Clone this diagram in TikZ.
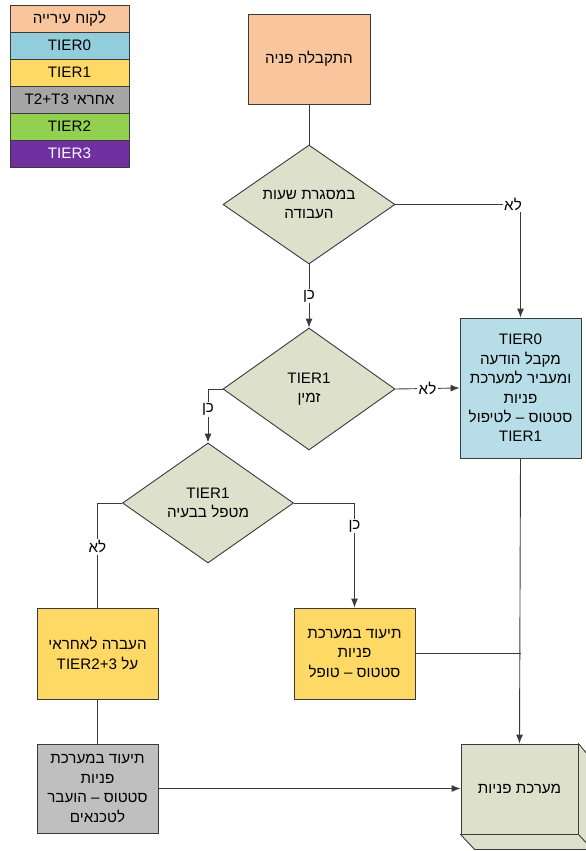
\documentclass[tikz,border=0pt]{standalone}
\usepackage{fontspec}
\setmainfont{Liberation Sans}
\newfontfamily\heb[Script=Hebrew]{Liberation Sans}
\TeXXeTstate=1
\usetikzlibrary{shapes.geometric,arrows.meta}
\newcommand\R[1]{{\heb\beginR #1\endR}}
\definecolor{peach}{HTML}{F9C59C}
\definecolor{legblue}{HTML}{92CDDC}
\definecolor{boxblue}{HTML}{B7DEE8}
\definecolor{yel}{HTML}{FFD966}
\definecolor{leggray}{HTML}{A6A6A6}
\definecolor{boxgray}{HTML}{BFBFBF}
\definecolor{grn}{HTML}{92D050}
\definecolor{purp}{HTML}{7030A0}
\definecolor{sage}{HTML}{DDE1CB}
\definecolor{edge}{HTML}{3A3A3A}
\tikzset{
  base/.style={draw=edge, line width=0.9pt, text=black, align=center, inner sep=0pt,
    font=\fontsize{15.2}{19.4}\selectfont},
  legrow/.style={base, minimum width=119pt, minimum height=27pt},
  box/.style={base, minimum width=121pt},
  dec/.style={base, diamond, fill=sage, aspect=1.45},
  conn/.style={draw=edge, line width=0.9pt},
  arr/.style={conn, -{Latex[length=9pt,width=7pt]}},
  lbl/.style={fill=white, inner sep=1.5pt, font=\fontsize{15.2}{19.4}\selectfont}
}
\begin{document}
\begin{tikzpicture}[x=1pt,y=-1pt]
\useasboundingbox (0,0) rectangle (586,851);
% legend
\node[legrow, fill=peach]   (leg1) at (69.5,18.5)  {\R{לקוח עירייה}};
\node[legrow, fill=legblue] (leg2) at (69.5,45.5)  {TIER0};
\node[legrow, fill=yel]     (leg3) at (69.5,72.5)  {TIER1};
\node[legrow, fill=leggray] (leg4) at (69.5,99.5)  {\R{אחראי \beginL T2+T3\endL}};
\node[legrow, fill=grn]     (leg5) at (69.5,126.5) {TIER2};
\node[legrow, fill=purp, text=white] (leg6) at (69.5,153.5) {TIER3};
% main nodes
\node[box, fill=peach, minimum width=122pt, minimum height=90pt] (start) at (309,59) {\R{התקבלה פניה}};
\node[dec, minimum width=172pt, minimum height=119pt] (d1) at (309,204.5) {\R{במסגרת שעות}\\\R{העבודה}};
\node[dec, minimum width=172pt, minimum height=122pt] (d2) at (309,389) {TIER1\\\R{זמין}};
\node[box, fill=boxblue, minimum height=140pt] (t0) at (520.5,388) {TIER0\\\R{מקבל הודעה}\\\R{ומעביר למערכת}\\\R{פניות}\\\R{סטטוס – לטיפול}\\TIER1};
\node[dec, minimum width=171pt, minimum height=120pt] (d3) at (208,503) {TIER1\\\R{מטפל בבעיה}};
\node[box, fill=yel, minimum height=91pt] (esc) at (97.5,653.5) {\R{העברה לאחראי}\\\R{על \beginL TIER2+3\endL}};
\node[box, fill=yel, minimum height=91pt] (done) at (354.5,653.5) {\R{תיעוד במערכת}\\\R{פניות}\\\R{סטטוס – טופל}};
\node[box, fill=boxgray, minimum height=89pt] (gray) at (97.5,788.5) {\R{תיעוד במערכת}\\\R{פניות}\\\R{סטטוס – הועבר}\\\R{לטכנאים}};
% 3D system box
\node[box, fill=sage, minimum width=117pt, minimum height=90pt] (sys) at (519.5,789) {};
\filldraw[fill=sage, draw=edge, line width=0.9pt, line join=round]
  (sys.south west) -- ++(14,15) -- ++(117,0) -- ++(0,-90) -- (sys.north east) -- (sys.south east) -- cycle;
\draw[draw=edge, line width=0.9pt] (sys.south east) -- ++(14,15);
\node[base, draw=none] (systxt) at (sys.center) {\R{מערכת פניות}};
% connectors
\draw[conn] (start.south) -- (d1.north);
\draw[arr] (d1.east) -| node[lbl, pos=0.47] (l1) {\R{לא}} (t0.north);
\draw[arr] (d1.south) -- node[lbl] (l2) {\R{כן}} (d2.north);
\draw[arr] (d2.east) -- node[lbl] (l3) {\R{לא}} (t0.west);
\draw[arr] (d2.west) -| node[lbl, pos=0.69] (l4) {\R{כן}} (d3.north);
\draw[conn] (d3.west) -| node[lbl, pos=0.71] (l5) {\R{לא}} (esc.north);
\draw[arr] (d3.east) -| node[lbl, pos=0.61] (l6) {\R{כן}} (done.north);
\draw[arr] (t0.south) -- (sys.north);
\coordinate (j1) at (t0.south |- done.east);
\draw[conn] (done.east) -- (j1);
\draw[conn] (esc.south) -- (gray.north);
\draw[arr] (gray.east) -- (gray.east -| sys.west);
\end{tikzpicture}
\end{document}
